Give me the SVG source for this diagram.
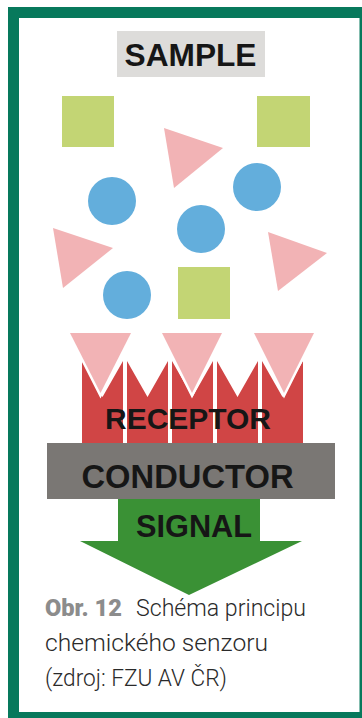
<svg xmlns="http://www.w3.org/2000/svg" width="362" height="718" viewBox="0 0 362 718">
<style>
.lbl{font-family:"Liberation Sans",Arial,sans-serif;font-weight:bold;fill:#161616;text-anchor:middle}
.sq{fill:#c3d574}
.tri{fill:#f2b3b5}
.ci{fill:#63aedc}
.col{fill:#d04545}
.rtri{fill:#f2b3b5;stroke:#ffffff;stroke-width:5;paint-order:stroke;stroke-linejoin:miter}
.cap{font-family:Roboto,"Liberation Sans",sans-serif;font-weight:300;font-size:24px;fill:#2a2a2a}
.capb{font-family:Roboto,"Liberation Sans",sans-serif;font-weight:900;font-size:23px;fill:#8c8c8c}
</style>
<g id="frame">
<rect x="8" y="7" width="362" height="720" fill="#07795c"/>
<rect x="19" y="18" width="340.5" height="694" fill="#ffffff"/>
</g>
<g id="sample">
<rect x="117" y="31" width="148" height="46" fill="#dddcda"/>
<text class="lbl" x="190.5" y="65.5" font-size="31" textLength="132" lengthAdjust="spacingAndGlyphs">SAMPLE</text>
</g>
<g id="particles">
<rect class="sq" x="62" y="96" width="52" height="51"/>
<rect class="sq" x="257" y="96" width="53" height="51"/>
<rect class="sq" x="178" y="267" width="52" height="52"/>
<polygon class="tri" points="164,128 223,148 174,188"/>
<polygon class="tri" points="53,228 113,248 63,288"/>
<polygon class="tri" points="268,232 327,253 278,291"/>
<circle class="ci" cx="112" cy="201" r="24"/>
<circle class="ci" cx="257" cy="187" r="24"/>
<circle class="ci" cx="201" cy="229" r="24"/>
<circle class="ci" cx="127" cy="295" r="24"/>
</g>
<g id="receptor">
<polygon class="col" points="82,443 82,361 102.5,397 123,361 123,443"/>
<polygon class="col" points="127,443 127,361 147.5,397 168,361 168,443"/>
<polygon class="col" points="172,443 172,361 192.5,397 213,361 213,443"/>
<polygon class="col" points="217,443 217,361 237.5,397 258,361 258,443"/>
<polygon class="col" points="262,443 262,361 282.5,397 303,361 303,443"/>
<polygon class="rtri" points="70,333 131,333 100.5,393"/>
<polygon class="rtri" points="162,333 222,333 192,393"/>
<polygon class="rtri" points="254,333 314,333 284,393"/>
<text class="lbl" x="188" y="429" font-size="30" textLength="166" lengthAdjust="spacingAndGlyphs">RECEPTOR</text>
</g>
<g id="conductor">
<rect x="47" y="443" width="288" height="56" fill="#7a7774"/>
<text class="lbl" x="187.5" y="487.5" font-size="32.6" textLength="212" lengthAdjust="spacingAndGlyphs">CONDUCTOR</text>
</g>
<g id="connectors">
<g id="signal">
<polygon points="118,499 260,499 260,541 302,541 189,595 80,541 118,541" fill="#3a9135"/>
<text class="lbl" x="194" y="536.5" font-size="30.5" textLength="116" lengthAdjust="spacingAndGlyphs">SIGNAL</text>
</g>
</g>
<g id="caption">
<text x="45" y="616" class="capb" textLength="77" lengthAdjust="spacingAndGlyphs">Obr. 12</text>
<text x="136" y="616" class="cap" textLength="170" lengthAdjust="spacingAndGlyphs">Schéma principu</text>
<text x="45" y="651" class="cap" textLength="223" lengthAdjust="spacingAndGlyphs">chemického senzoru</text>
<text x="45" y="686" class="cap" textLength="182" lengthAdjust="spacingAndGlyphs">(zdroj: FZU AV ČR)</text>
</g>
</svg>
